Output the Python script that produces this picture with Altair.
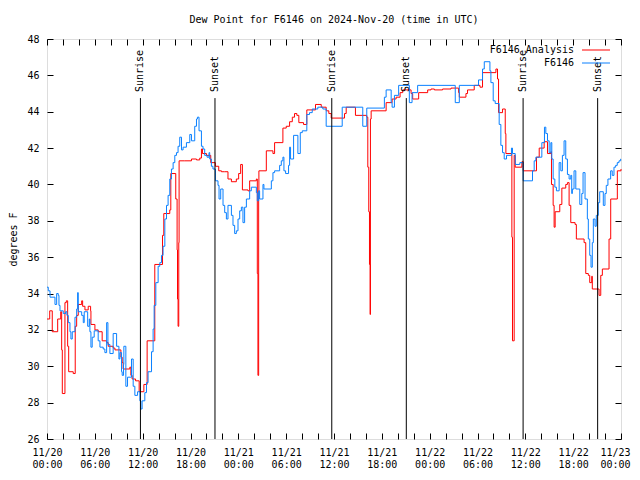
import json
import altair as alt
import pandas as pd

# ---------------- data (hours since 2024-11-20 00:00 UTC, dew point degF) -------------
red_h = [0.0, 0.34, 0.5, 0.66, 1.34, 1.72, 1.84, 1.92, 2.25, 2.42, 2.59, 2.72, 3.29, 3.54, 3.72,
         3.92, 4.35, 4.47, 4.76, 5.17, 5.47, 5.51, 6.01, 6.42, 6.92, 7.48, 7.68, 8.3, 8.52, 9.27,
         9.43, 9.55, 10.39, 10.52, 10.68, 11.11, 11.56, 12.15, 12.56, 13.52, 14.49, 14.65, 15.4,
         15.53, 16.15, 16.32, 16.37, 16.44, 16.53, 16.57, 17.28, 18.12, 18.75, 19.16, 19.37, 19.5,
         20.0, 20.54, 21.12, 21.54, 21.88, 22.29, 22.7, 23.13, 23.75, 24.04, 24.29, 24.51, 25.21,
         25.42, 26.26, 26.38, 26.46, 26.55, 26.58, 27.51, 28.34, 28.55, 29.59, 30.01, 30.43, 30.77,
         31.05, 31.34, 31.59, 32.18, 32.59, 33.68, 34.4, 35.02, 35.35, 35.65, 37.32, 37.53, 38.69,
         40.11, 40.24, 40.36, 40.45, 40.53, 40.57, 40.66, 42.54, 43.29, 43.79, 44.29, 44.62, 45.67,
         45.87, 46.62, 47.75, 48.17, 48.59, 49.62, 50.68, 51.63, 51.72, 52.55, 52.75, 53.59, 54.31,
         54.63, 56.31, 56.51, 56.64, 57.14, 57.48, 57.56, 58.31, 58.39, 58.6, 58.73, 59.57, 59.74,
         61.4, 61.74, 62.36, 62.78, 63.2, 63.28, 63.49, 63.61, 63.74, 64.32, 64.58, 65.07, 65.28,
         65.49, 65.7, 66.24, 66.4, 67.37, 67.58, 67.9, 68.08, 68.33, 68.4, 69.25, 69.46, 69.66,
         70.5, 70.71, 71.54, 72.0]
red_v = [32.6, 33.05, 33.05, 31.9, 32.6, 33.0, 30.9, 28.5, 33.5, 33.6, 31.1, 29.7, 29.6, 32.2, 32.8,
         33.4, 33.6, 33.3, 33.1, 33.3, 33.05, 32.3, 32.0, 31.9, 31.4, 31.3, 31.1, 31.0, 30.9, 30.5,
         30.2, 29.85, 29.95, 29.5, 29.3, 29.2, 28.6, 29.0, 31.4, 35.6, 37.2, 38.4, 38.6,
         40.6, 39.2, 36.4, 33.7, 32.2, 36.8, 41.3, 41.3, 41.4, 41.35, 41.45, 41.95, 41.7,
         41.6, 41.2, 41.0, 40.75, 40.7, 40.7, 40.3, 40.15, 40.3, 40.6, 41.1, 39.7, 39.65,
         40.2, 40.3, 35.1, 29.5, 39.4, 40.75, 41.85, 41.7, 42.3, 43.1, 43.2, 43.45, 43.7,
         43.9, 43.8, 43.4, 43.3, 44.1, 44.4, 44.25, 44.05, 43.9, 43.65, 43.9, 44.25, 43.8,
         43.7, 40.95, 38.5, 35.6, 32.85, 43.6, 44.05, 44.5, 44.7, 44.8, 45.05, 45.2, 45.0,
         44.7, 45.05, 45.2, 45.25, 45.2, 45.25, 45.3, 45.05, 44.8, 45.0, 45.2, 45.45, 45.35,
         46.15, 46.35, 45.8, 43.95, 44.15, 42.8, 41.7, 37.1, 31.4, 41.6, 40.95, 41.25, 40.75,
         41.5, 42.0, 42.35, 41.7, 41.8, 40.0, 38.85, 37.65, 38.5, 38.9, 39.8, 40.0, 40.1,
         38.85, 37.9, 37.8, 37.0, 36.8, 35.1, 35.0, 34.6, 34.95, 34.25, 33.9, 35.0, 35.35,
         37.0, 39.2, 40.75, 40.85]

blue_h = [0.0, 0.16, 0.38, 1.0, 1.21, 1.41, 1.5, 1.63, 2.04, 2.34, 2.5, 2.67, 2.88, 3.0, 3.17,
          3.51, 3.72, 3.84, 3.92, 4.35, 4.55, 4.67, 5.1, 5.3, 5.38, 5.51, 5.67, 5.92, 6.42, 6.64,
          7.05, 7.26, 7.48, 7.64, 7.89, 8.3, 8.73, 9.02, 9.14, 9.35, 9.43, 9.6, 9.64, 9.89, 10.1,
          10.6, 10.81, 11.02, 11.36, 11.65, 11.77, 11.93, 12.27, 12.48, 12.68, 13.11, 13.31, 13.44,
          13.65, 13.94, 14.15, 14.36, 14.56, 14.78, 14.99, 15.19, 15.4, 15.61, 15.82, 16.03, 16.24,
          16.44, 16.65, 16.87, 17.07, 17.49, 17.91, 18.12, 18.53, 18.75, 18.87, 19.07, 19.37,
          19.57, 19.78, 20.07, 20.32, 20.41, 20.62, 20.82, 21.13, 21.45, 21.58, 21.79, 22.08,
          22.29, 22.5, 22.7, 23.13, 23.33, 23.54, 23.75, 23.96, 24.17, 24.38, 24.58, 24.79,
          25.01, 25.42, 25.63, 26.26, 26.38, 26.55, 26.67, 27.09, 27.21, 28.14, 28.34, 28.55,
          29.18, 29.39, 29.59, 29.72, 29.93, 30.3, 30.43, 30.55, 30.93, 31.47, 31.77, 32.02,
          32.59, 32.93, 33.27, 33.97, 34.6, 35.02, 37.03, 39.61, 40.11, 42.32, 42.54, 43.17,
          43.29, 43.58, 44.11, 45.45, 45.79, 46.49, 51.21, 51.72, 54.13, 54.63, 54.85, 55.56,
          55.68, 55.97, 56.22, 56.72, 56.93, 57.14, 57.35, 57.64, 58.26, 58.39, 58.73, 59.31,
          59.73, 60.9, 61.11, 61.32, 62.07, 62.4, 62.57, 62.78, 62.99, 63.2, 63.32, 63.49, 63.7,
          63.9, 64.24, 64.45, 64.65, 64.86, 65.07, 65.28, 65.49, 65.7, 65.82, 65.9, 66.11,
          66.33, 66.83, 67.08, 67.24, 67.49, 67.78, 67.9, 68.08, 68.24, 68.4, 68.53, 68.74,
          68.9, 69.15, 69.33, 69.78, 69.99, 70.15, 70.36, 70.7, 70.9, 71.12, 71.33, 71.53,
          71.75, 71.96, 72.0]
blue_v = [34.35, 34.15, 33.8, 33.4, 34.0, 33.9, 33.35, 33.05, 32.9, 33.0, 32.8, 32.4, 31.9, 31.5, 31.9,
          32.7, 33.15, 34.05, 33.0, 32.8, 32.4, 33.0, 32.2, 32.6, 31.9, 31.05, 31.6, 31.95, 31.4, 31.05,
          30.95, 30.75, 32.4, 31.2, 30.7, 31.8, 31.1, 30.4, 30.75, 29.7, 29.5, 30.1, 31.1, 28.9, 29.4,
          30.4, 28.9, 28.4, 28.6, 28.1, 27.65, 28.1, 28.55, 29.1, 29.7, 30.8, 32.05, 33.35,
          34.6, 35.5, 35.7, 36.1, 36.6, 38.1, 38.85, 39.4, 40.3, 40.85, 41.2, 41.6, 41.75,
          42.1, 42.6, 41.9, 42.05, 42.3, 42.75, 42.4, 43.2, 43.6, 43.7, 42.95, 42.1,
          41.95, 41.6, 41.5, 41.75, 41.4, 41.0, 40.85, 40.2, 39.95, 39.2, 39.75, 38.85,
          38.45, 38.1, 38.85, 38.3, 37.75, 37.3, 37.45, 38.1, 38.55, 38.75, 37.9, 38.75,
          39.2, 39.65, 39.85, 39.55, 39.1, 39.65, 39.2, 40.0, 39.75, 40.2, 40.65, 40.75,
          41.05, 41.3, 41.5, 40.75, 40.6, 41.05, 42.05, 41.4, 42.7, 41.7, 42.85, 42.95,
          43.85, 43.95, 44.15, 44.25, 44.15, 43.2, 44.25, 43.2, 44.2, 44.8, 45.2, 44.5,
          44.25, 44.9, 45.45, 44.5, 45.05, 45.45, 44.5, 45.45, 45.75, 46.35, 46.75, 46.25,
          45.6, 44.6, 44.45, 43.3, 42.15, 41.75, 41.4, 41.6, 42.0, 41.7, 41.1, 41.2,
          40.2, 40.75, 41.3, 41.5, 42.3, 43.15, 42.8, 42.4, 41.75, 42.3, 41.4, 40.3, 39.85,
          39.65, 41.2, 40.75, 41.6, 42.4, 41.4, 40.55, 40.3, 40.5, 39.5, 39.75, 40.75,
          39.75, 38.9, 39.5, 40.65, 39.2, 38.1, 37.0, 36.1, 35.45, 36.8, 38.1, 37.7,
          38.3, 39.0, 39.6, 38.85, 39.5, 39.95, 40.3, 40.75, 40.5, 40.95, 41.05, 41.2,
          41.3, 41.4, 41.4]

sun_h = [11.72, 21.07, 35.72, 45.07, 59.72, 69.07]
sun_label = ["Sunrise", "Sunset", "Sunrise", "Sunset", "Sunrise", "Sunset"]

series_names = ["F6146 Analysis", "F6146"]
series_colors = ["#ff0000", "#0a80ff"]

tick_days = ["11/20", "11/20", "11/20", "11/20", "11/21", "11/21", "11/21",
             "11/21", "11/22", "11/22", "11/22", "11/22", "11/23"]
tick_times = ["00:00", "06:00", "12:00", "18:00", "00:00", "06:00", "12:00",
              "18:00", "00:00", "06:00", "12:00", "18:00", "00:00"]
y_ticks = [26, 28, 30, 32, 34, 36, 38, 40, 42, 44, 46, 48]

TITLE = "Dew Point for F6146 on 2024-Nov-20 (time in UTC)"
FONT = "DejaVu Sans Mono"
FS = 10

red_df = pd.DataFrame({"h": red_h, "v": red_v})
blue_df = pd.DataFrame({"h": blue_h, "v": blue_v})
sun_df = pd.DataFrame({"h": sun_h, "label": sun_label})

xscale = alt.Scale(domain=[0, 72], nice=False, zero=False)
yscale = alt.Scale(domain=[26, 48], nice=False, zero=False)

major_x = [6 * i for i in range(len(tick_days))]
minor_x = list(range(0, 73, 2))

label_expr = (f"[{json.dumps(tick_days)}[round(datum.value/6)], "
              f"{json.dumps(tick_times)}[round(datum.value/6)]]")

x_label_axis = alt.Axis(values=major_x, labelExpr=label_expr, ticks=False, domain=False,
                        grid=False, title=None, labelFont=FONT, labelFontSize=FS,
                        labelColor="black", labelLineHeight=12, labelPadding=8,
                        labelAngle=0, labelOverlap=False, labelFlush=False, labelBound=False,
                        labelOffset={"condition": {"test": f"datum.value >= {major_x[-1]}",
                                                   "value": -6}, "value": 0})
y_label_axis = alt.Axis(values=y_ticks, ticks=False, domain=False, grid=False,
                        title="degrees F", titleFont=FONT, titleFontSize=FS,
                        titleFontWeight="normal", titleColor="black", titlePadding=8,
                        labelFont=FONT, labelFontSize=FS, labelColor="black",
                        labelPadding=8, labelOverlap=False, labelFlush=False)


def tick_axis(values, orient):
    return alt.Axis(values=values, orient=orient, labels=False, ticks=True, tickSize=6,
                    tickColor="black", tickWidth=1, offset=-6, domain=False, grid=False,
                    title=None)


red = alt.Chart(red_df).mark_line(color=series_colors[0], strokeWidth=1,
                                  interpolate="step-after").encode(
    x=alt.X("h:Q", scale=xscale, axis=x_label_axis),
    y=alt.Y("v:Q", scale=yscale, axis=y_label_axis),
)

blue = alt.Chart(blue_df).mark_line(color=series_colors[1], strokeWidth=1,
                                    interpolate="step-after").encode(
    x=alt.X("h:Q", scale=xscale, axis=tick_axis(minor_x, "bottom")),
    y=alt.Y("v:Q", scale=yscale, axis=tick_axis(y_ticks, "left")),
)

sun_rules = alt.Chart(sun_df).mark_rule(color="black", strokeWidth=1).encode(
    x=alt.X("h:Q", scale=xscale, axis=tick_axis(minor_x, "top")),
    y=alt.Y(datum=44.75, scale=yscale, axis=tick_axis(y_ticks, "right")),
    y2=alt.datum(26),
)

sun_text = alt.Chart(sun_df).mark_text(angle=270, align="left", baseline="middle",
                                       font=FONT, fontSize=FS, color="black").encode(
    x=alt.X("h:Q", scale=xscale, axis=None),
    y=alt.value(53),
    text="label:N",
)

legend_layers = []
for i, (name, col) in enumerate(zip(series_names, series_colors)):
    ly = 11 + 13 * i
    legend_layers.append(
        alt.Chart(pd.DataFrame({"t": [name]})).mark_text(
            align="right", baseline="middle", font=FONT, fontSize=FS, color="black"
        ).encode(text="t:N", x=alt.value(527), y=alt.value(ly))
    )
    legend_layers.append(
        alt.Chart(pd.DataFrame({"t": [name]})).mark_rule(color=col, strokeWidth=1).encode(
            x=alt.value(535), x2=alt.value(563), y=alt.value(ly)
        )
    )

chart = alt.layer(red, blue, sun_rules, sun_text, *legend_layers).resolve_axis(
    x="independent", y="independent"
).properties(
    width=574,
    height=400,
    title=alt.TitleParams(TITLE, font=FONT, fontSize=FS, fontWeight="normal",
                          color="black", anchor="middle", offset=9),
    autosize=alt.AutoSizeParams(type="none"),
    padding={"left": 39, "top": 31, "right": 11, "bottom": 33},
).configure_view(stroke="black", strokeWidth=1).configure(background="white")

chart.save("out.html", embed_options={"renderer": "svg", "actions": False})
